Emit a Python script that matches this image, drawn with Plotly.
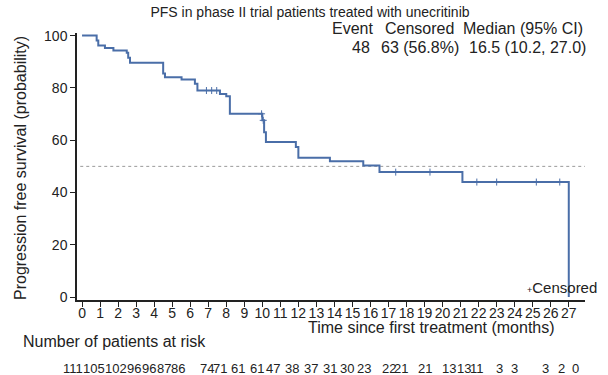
import plotly.graph_objects as go

# ---- data ----
step_times = [0, 0.81, 0.90, 1.27, 1.74, 2.48, 2.56, 2.66, 4.50, 4.60, 5.52, 6.26, 6.40,
              7.65, 8.00, 8.20, 10.00, 10.10, 10.20, 11.86, 12.00, 13.75, 15.60, 16.50,
              21.10, 27.00]
step_surv = [100, 98.1, 96.2, 95.3, 94.3, 93.4, 91.5, 89.6, 85.5, 84.1, 83.2, 81.6, 79.0,
             77.7, 76.8, 70.1, 67.6, 63.0, 59.3, 57.4, 53.3, 52.0, 50.3, 47.8,
             44.0, 0]
censor_times = [6.9, 7.19, 7.47, 9.96, 10.05, 17.4, 19.3, 21.9, 23.0, 25.2, 26.5]
censor_surv = [79.0, 79.0, 79.0, 70.1, 67.6, 47.8, 47.8, 44.0, 44.0, 44.0, 44.0]
risk_times = list(range(28))
risk_counts = [111, 105, 102, 96, 96, 87, 86, 74, 71, 61, 61, 47, 38, 37, 31, 30, 23, 22,
               21, 21, 13, 13, 11, 3, 3, 3, 2, 0]
tick_vals_x = list(range(28))
tick_vals_y = [0, 20, 40, 60, 80, 100]
legend_head = ["Event", "Censored", "Median (95% CI)"]
legend_vals = ["48", "63 (56.8%)", "16.5 (10.2, 27.0)"]
median_level = 50

# ---- style / layout (pixel positions) ----
BLUE = "#4a6ea8"
TXT = "#222222"
FONT = "Liberation Sans, Arial, sans-serif"
L, R, T, B = 77, 585, 33, 300
W, H = 608, 375
risk_shift = [-9, -6, -2, -2, -5, -8, -12, -1, -6, -6, -5, -7, -6, -5, -4, -5, -6, 0,
              -6, 0, 6, 3, -2, 3, 0, 13, 11, 7]
head_cx = [352, 419, 523]
val_cx = [361, 420, 527]


def px(x):
    return (x - L) / (R - L)


def py(y):
    return (B - y) / (B - T)


fig = go.Figure()

fig.add_trace(go.Scatter(x=[-0.1, 27.9], y=[median_level, median_level], mode="lines",
                         line=dict(color="#9a9a9a", width=1, dash="dot"),
                         hoverinfo="skip", showlegend=False))

fig.add_trace(go.Scatter(x=step_times, y=step_surv, mode="lines",
                         line=dict(color=BLUE, width=2, shape="hv"),
                         showlegend=False))

for sym in ("line-ns-open", "line-ew-open"):
    fig.add_trace(go.Scatter(x=censor_times, y=censor_surv, mode="markers",
                             marker=dict(symbol=sym, size=5, color=BLUE,
                                         line=dict(width=1, color=BLUE)),
                             showlegend=False))

ann = []
for h, v, hx, vx in zip(legend_head, legend_vals, head_cx, val_cx):
    ann.append(dict(x=px(hx), y=py(29), xref="paper", yref="paper", text=h,
                    showarrow=False, xanchor="center", yanchor="middle",
                    font=dict(size=16, color=TXT)))
    ann.append(dict(x=px(vx), y=py(47), xref="paper", yref="paper", text=v,
                    showarrow=False, xanchor="center", yanchor="middle",
                    font=dict(size=16, color=TXT)))

ann.append(dict(x=px(599), y=py(287), xref="paper", yref="paper",
                text="<span style='font-size:9px'>+</span>Censored",
                showarrow=False, xanchor="right", yanchor="middle",
                font=dict(size=15, color=TXT)))
ann.append(dict(x=px(431), y=py(327), xref="paper", yref="paper",
                text="Time since first treatment (months)",
                showarrow=False, xanchor="center", yanchor="middle",
                font=dict(size=16, color=TXT)))
ann.append(dict(x=px(21), y=py(341), xref="paper", yref="paper",
                text="Number of patients at risk",
                showarrow=False, xanchor="left", yanchor="middle",
                font=dict(size=16, color=TXT)))
ann.append(dict(x=px(20), y=py(168), xref="paper", yref="paper",
                text="Progression free survival (probability)", textangle=-90,
                showarrow=False, xanchor="center", yanchor="middle",
                font=dict(size=16, color=TXT)))
for t, n, s in zip(risk_times, risk_counts, risk_shift):
    ann.append(dict(x=t, y=py(368), xref="x", yref="paper", text=str(n), xshift=s,
                    showarrow=False, xanchor="center", yanchor="middle",
                    font=dict(size=13, color=TXT)))

fig.update_layout(
    width=W, height=H,
    margin=dict(l=L, r=W - R, t=T, b=H - B),
    paper_bgcolor="white", plot_bgcolor="white",
    font=dict(family=FONT, color=TXT),
    title=dict(text="PFS in phase II trial patients treated with unecritinib",
               x=310 / W, xanchor="center", y=1 - 12 / H, yanchor="middle",
               font=dict(size=14, color=TXT)),
    annotations=ann,
    showlegend=False,
)
fig.update_xaxes(range=[-0.28, 27.9], tickmode="array", tickvals=tick_vals_x,
                 ticktext=[str(v) for v in tick_vals_x], tickangle=0,
                 ticklabelstandoff=-6,
                 showgrid=False, zeroline=False, showline=True, linecolor=TXT,
                 linewidth=1.5, ticks="outside", ticklen=5, tickwidth=1.2,
                 tickcolor=TXT, tickfont=dict(size=14))
fig.update_yaxes(range=[-1.1, 101], tickmode="array", tickvals=tick_vals_y,
                 showgrid=False, zeroline=False, showline=True, linecolor=TXT,
                 linewidth=1.5, ticks="outside", ticklen=5, tickwidth=1.2,
                 tickcolor=TXT, tickfont=dict(size=14))

fig.write_html("out.html", config={"displayModeBar": False},
               post_script="document.body.style.margin='0';document.body.style.overflow='hidden';")
